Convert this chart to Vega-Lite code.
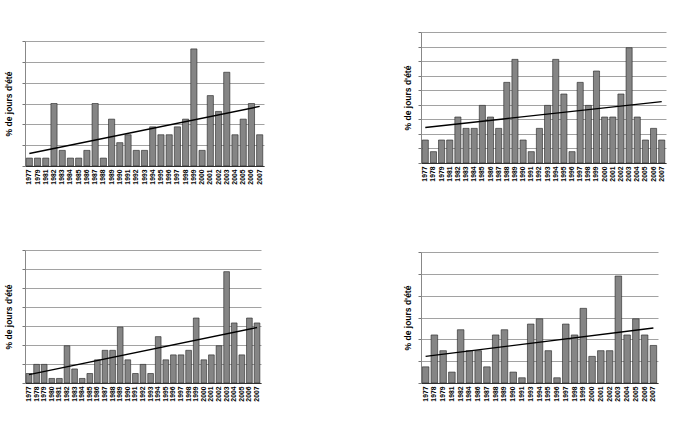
{
  "$schema": "https://vega.github.io/schema/vega-lite/v6.json",
  "padding": {"left": 4, "top": 31, "right": 2, "bottom": 2},
  "background": "white",
  "datasets": {
    "p1": [
      {"year": "1977", "pct": 1.9}, {"year": "1979", "pct": 1.9}, {"year": "1981", "pct": 1.9},
      {"year": "1982", "pct": 15.0}, {"year": "1983", "pct": 3.75}, {"year": "1984", "pct": 1.9},
      {"year": "1985", "pct": 1.9}, {"year": "1986", "pct": 3.75}, {"year": "1987", "pct": 15.0},
      {"year": "1988", "pct": 1.9}, {"year": "1989", "pct": 11.25}, {"year": "1990", "pct": 5.6},
      {"year": "1991", "pct": 7.5}, {"year": "1992", "pct": 3.75}, {"year": "1993", "pct": 3.75},
      {"year": "1994", "pct": 9.4}, {"year": "1995", "pct": 7.5}, {"year": "1996", "pct": 7.5},
      {"year": "1997", "pct": 9.4}, {"year": "1998", "pct": 11.25}, {"year": "1999", "pct": 28.1},
      {"year": "2000", "pct": 3.75}, {"year": "2001", "pct": 16.9}, {"year": "2002", "pct": 13.1},
      {"year": "2003", "pct": 22.5}, {"year": "2004", "pct": 7.5}, {"year": "2005", "pct": 11.25},
      {"year": "2006", "pct": 15.0}, {"year": "2007", "pct": 7.5}
    ],
    "t1": [{"year": "1977", "pct": 3.0}, {"year": "2007", "pct": 14.3}],
    "p2": [
      {"year": "1977", "pct": 7.9}, {"year": "1978", "pct": 3.9}, {"year": "1979", "pct": 7.9},
      {"year": "1981", "pct": 7.9}, {"year": "1982", "pct": 15.8}, {"year": "1983", "pct": 11.9},
      {"year": "1984", "pct": 11.9}, {"year": "1985", "pct": 19.8}, {"year": "1986", "pct": 15.8},
      {"year": "1987", "pct": 11.9}, {"year": "1988", "pct": 27.7}, {"year": "1989", "pct": 35.6},
      {"year": "1990", "pct": 7.9}, {"year": "1991", "pct": 3.9}, {"year": "1992", "pct": 11.9},
      {"year": "1993", "pct": 19.8}, {"year": "1994", "pct": 35.6}, {"year": "1995", "pct": 23.7},
      {"year": "1996", "pct": 3.9}, {"year": "1997", "pct": 27.7}, {"year": "1998", "pct": 19.8},
      {"year": "1999", "pct": 31.6}, {"year": "2000", "pct": 15.8}, {"year": "2001", "pct": 15.8},
      {"year": "2002", "pct": 23.7}, {"year": "2003", "pct": 39.6}, {"year": "2004", "pct": 15.8},
      {"year": "2005", "pct": 7.9}, {"year": "2006", "pct": 11.9}, {"year": "2007", "pct": 7.9}
    ],
    "t2": [{"year": "1977", "pct": 12.2}, {"year": "2007", "pct": 21.1}],
    "p3": [
      {"year": "1977", "pct": 2.5}, {"year": "1978", "pct": 4.9}, {"year": "1979", "pct": 4.9},
      {"year": "1980", "pct": 1.2}, {"year": "1981", "pct": 1.2}, {"year": "1982", "pct": 9.8},
      {"year": "1983", "pct": 3.7}, {"year": "1984", "pct": 1.2}, {"year": "1985", "pct": 2.5},
      {"year": "1986", "pct": 6.1}, {"year": "1987", "pct": 8.6}, {"year": "1988", "pct": 8.6},
      {"year": "1989", "pct": 14.7}, {"year": "1990", "pct": 6.1}, {"year": "1991", "pct": 2.5},
      {"year": "1992", "pct": 4.9}, {"year": "1993", "pct": 2.5}, {"year": "1994", "pct": 12.2},
      {"year": "1995", "pct": 6.1}, {"year": "1996", "pct": 7.4}, {"year": "1997", "pct": 7.4},
      {"year": "1998", "pct": 8.6}, {"year": "1999", "pct": 17.1}, {"year": "2000", "pct": 6.1},
      {"year": "2001", "pct": 7.4}, {"year": "2002", "pct": 9.8}, {"year": "2003", "pct": 29.3},
      {"year": "2004", "pct": 15.8}, {"year": "2005", "pct": 7.4}, {"year": "2006", "pct": 17.1},
      {"year": "2007", "pct": 15.8}
    ],
    "t3": [{"year": "1977", "pct": 2.2}, {"year": "2007", "pct": 14.6}],
    "p4": [
      {"year": "1977", "pct": 3.7}, {"year": "1978", "pct": 11.0}, {"year": "1979", "pct": 7.4},
      {"year": "1981", "pct": 2.5}, {"year": "1982", "pct": 12.2}, {"year": "1984", "pct": 7.4},
      {"year": "1986", "pct": 7.4}, {"year": "1987", "pct": 3.7}, {"year": "1988", "pct": 11.0},
      {"year": "1989", "pct": 12.2}, {"year": "1990", "pct": 2.5}, {"year": "1991", "pct": 1.2},
      {"year": "1993", "pct": 13.5}, {"year": "1994", "pct": 14.7}, {"year": "1995", "pct": 7.4},
      {"year": "1996", "pct": 1.2}, {"year": "1997", "pct": 13.5}, {"year": "1998", "pct": 11.0},
      {"year": "1999", "pct": 17.1}, {"year": "2000", "pct": 6.1}, {"year": "2001", "pct": 7.4},
      {"year": "2002", "pct": 7.4}, {"year": "2003", "pct": 24.5}, {"year": "2004", "pct": 11.0},
      {"year": "2005", "pct": 14.7}, {"year": "2006", "pct": 11.0}, {"year": "2007", "pct": 8.6}
    ],
    "t4": [{"year": "1977", "pct": 6.1}, {"year": "2007", "pct": 12.6}]
  },
  "config": {
    "view": {"stroke": null},
    "font": "Liberation Sans",
    "axisX": {
      "labelAngle": -90, "labelFontSize": 6.8, "labelFontWeight": "bold", "labelColor": "#000",
      "labelPadding": 3, "ticks": false, "domainColor": "#333", "domainWidth": 1, "title": null,
      "labelFont": "Liberation Sans", "labelOverlap": false
    },
    "axisY": {
      "labels": false, "tickColor": "#777", "tickSize": 3, "domainColor": "#888",
      "gridColor": "#8a8a8a", "gridWidth": 0.8, "titleFontSize": 8.5, "titleFontWeight": "bold",
      "titleColor": "#000", "titleFont": "Liberation Sans"
    }
  },
  "columns": 2,
  "align": "each",
  "spacing": {"row": 64, "column": 139},
  "concat": [
    {
      "width": 239, "height": 134,
      "encoding": {
        "x": {"field": "year", "type": "ordinal", "sort": null, "scale": {"paddingInner": 0.25, "paddingOuter": 0.15}},
        "y": {"field": "pct", "type": "quantitative", "scale": {"domain": [0, 30], "range": [134, 9]}, "axis": {"values": [0, 5, 10, 15, 20, 25, 30], "title": "% de jours d'été", "titlePadding": 8}}
      },
      "layer": [
        {"data": {"name": "p1"}, "mark": {"type": "bar", "fill": "#858585", "stroke": "#222", "strokeWidth": 0.6}},
        {"data": {"name": "t1"}, "mark": {"type": "line", "color": "#000", "strokeWidth": 1.4}}
      ]
    },
    {
      "width": 245, "height": 131,
      "encoding": {
        "x": {"field": "year", "type": "ordinal", "sort": null, "scale": {"paddingInner": 0.25, "paddingOuter": 0.15}},
        "y": {"field": "pct", "type": "quantitative", "scale": {"domain": [0, 45]}, "axis": {"values": [0, 5, 10, 15, 20, 25, 30, 35, 40, 45], "title": "% de jours d'été", "titlePadding": 5}}
      },
      "layer": [
        {"data": {"name": "p2"}, "mark": {"type": "bar", "fill": "#858585", "stroke": "#222", "strokeWidth": 0.6}},
        {"data": {"name": "t2"}, "mark": {"type": "line", "color": "#000", "strokeWidth": 1.4}}
      ]
    },
    {
      "width": 236, "height": 133,
      "encoding": {
        "x": {"field": "year", "type": "ordinal", "sort": null, "scale": {"paddingInner": 0.25, "paddingOuter": 0.15}},
        "y": {"field": "pct", "type": "quantitative", "scale": {"domain": [0, 35]}, "axis": {"values": [0, 5, 10, 15, 20, 25, 30, 35], "title": "% de jours d'été", "titlePadding": 8}}
      },
      "layer": [
        {"data": {"name": "p3"}, "mark": {"type": "bar", "fill": "#858585", "stroke": "#222", "strokeWidth": 0.6}},
        {"data": {"name": "t3"}, "mark": {"type": "line", "color": "#000", "strokeWidth": 1.4}}
      ]
    },
    {
      "width": 237, "height": 133,
      "encoding": {
        "x": {"field": "year", "type": "ordinal", "sort": null, "scale": {"paddingInner": 0.25, "paddingOuter": 0.15}},
        "y": {"field": "pct", "type": "quantitative", "scale": {"domain": [0, 30], "range": [133, 2]}, "axis": {"values": [0, 5, 10, 15, 20, 25, 30], "title": "% de jours d'été", "titlePadding": 5}}
      },
      "layer": [
        {"data": {"name": "p4"}, "mark": {"type": "bar", "fill": "#858585", "stroke": "#222", "strokeWidth": 0.6}},
        {"data": {"name": "t4"}, "mark": {"type": "line", "color": "#000", "strokeWidth": 1.4}}
      ]
    }
  ]
}
